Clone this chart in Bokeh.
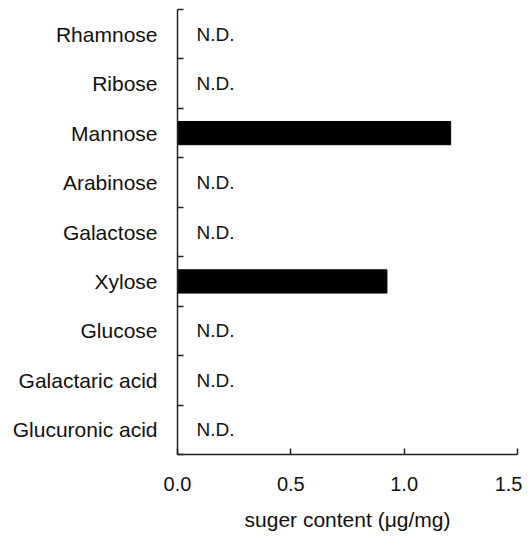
from bokeh.plotting import figure
from bokeh.models import ColumnDataSource, FixedTicker, Range1d, LabelSet
from bokeh.core.properties import value
from bokeh.embed import file_html
from bokeh.resources import INLINE

# Data (top to bottom order as shown)
sugars = ["Rhamnose", "Ribose", "Mannose", "Arabinose", "Galactose",
          "Xylose", "Glucose", "Galactaric acid", "Glucuronic acid"]
content = [0.0, 0.0, 1.205, 0.0, 0.0, 0.924, 0.0, 0.0, 0.0]
detected = [False, False, True, False, False, True, False, False, False]
x_ticks = [0.0, 0.5, 1.0, 1.5]
x_tick_labels = ["0.0", "0.5", "1.0", "1.5"]

n = len(sugars)
ypos = [n - 0.5 - i for i in range(n)]

FONT = "Liberation Sans"

p = figure(width=522, height=533, x_range=Range1d(0, 1.5), y_range=Range1d(0, n),
           output_backend="svg", toolbar_location=None,
           min_border_left=177, min_border_right=5, min_border_top=9, min_border_bottom=76)
p.outline_line_color = None
p.grid.visible = False
p.background_fill_color = "white"

bar_src = ColumnDataSource(dict(
    y=[y for y, d in zip(ypos, detected) if d],
    right=[c for c, d in zip(content, detected) if d],
))
p.hbar(y="y", left=0, right="right", height=0.47, source=bar_src,
       fill_color="black", line_color="black")

nd_src = ColumnDataSource(dict(
    y=[y for y, d in zip(ypos, detected) if not d],
    x=[0.0 for d in detected if not d],
    t=["N.D." for d in detected if not d],
))
labels = LabelSet(x="x", y="y", text="t", source=nd_src, x_offset=19,
                  text_baseline="middle", text_font=value(FONT),
                  text_font_size=value("19px"), text_color="#111111")
p.add_layout(labels)

# x axis
xa = p.xaxis[0]
xa.ticker = FixedTicker(ticks=x_ticks)
xa.major_label_overrides = {t: l for t, l in zip(x_ticks, x_tick_labels)}
xa.major_tick_in = 6
xa.major_tick_out = 0
xa.minor_tick_line_color = None
xa.axis_line_color = "#222222"
xa.major_tick_line_color = "#222222"
xa.axis_line_width = 1.5
xa.major_tick_line_width = 1.5
xa.major_label_text_font = FONT
xa.major_label_text_font_size = "20px"
xa.major_label_text_color = "#111111"
xa.major_label_standoff = 22
xa.axis_label = "suger content (μg/mg)"
xa.axis_label_text_font = FONT
xa.axis_label_text_font_size = "21px"
xa.axis_label_text_font_style = "normal"
xa.axis_label_text_color = "#111111"
xa.axis_label_standoff = 14

# y axis: labels at centres, ticks at category boundaries
ya = p.yaxis[0]
ya.ticker = FixedTicker(ticks=ypos, minor_ticks=list(range(n + 1)))
ya.major_label_overrides = {y: s for y, s in zip(ypos, sugars)}
ya.major_tick_in = 0
ya.major_tick_out = 0
ya.minor_tick_in = 6
ya.minor_tick_out = 0
ya.axis_line_color = "#222222"
ya.minor_tick_line_color = "#222222"
ya.axis_line_width = 1.5
ya.minor_tick_line_width = 1.5
ya.major_label_text_font = FONT
ya.major_label_text_font_size = "21px"
ya.major_label_text_color = "#111111"
ya.major_label_standoff = 20

open("out.html", "w").write(file_html(p, INLINE))
